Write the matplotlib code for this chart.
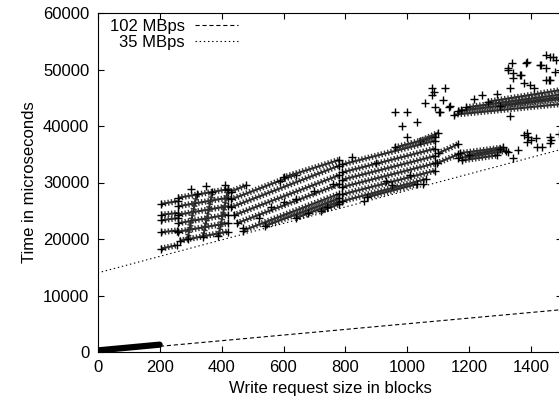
import matplotlib
matplotlib.use("Agg")
import matplotlib.pyplot as plt

plt.rcParams['font.family'] = ['Liberation Sans', 'DejaVu Sans']
plt.rcParams['lines.scale_dashes'] = False

# reference lines (endpoints)
line_x = [0, 1500]
line_102 = [0, 7500]
line_35 = [14000, 35900]

# small writes: dense band close to the 102 MBps line
small_x = [4, 200]
small_y = [300, 1300]

# stripes of dense points (x0, y0, x1, y1)
stripes_r1 = [
    (205, 26200, 258, 26700), (205, 24300, 258, 24600), (205, 23300, 258, 23700),
    (205, 21200, 255, 21500), (205, 18300, 255, 18900),
    (260, 27300, 420, 28800), (260, 25800, 420, 27300), (260, 24300, 420, 25800),
    (260, 22800, 420, 24300), (260, 21300, 420, 22800), (265, 19700, 420, 21300),
    (290, 20000, 320, 27900), (340, 20300, 370, 28300), (390, 20500, 420, 28600),
]
stripes_r2 = [
    (430, 28400, 480, 29500), (430, 27000, 640, 31400), (430, 25600, 780, 33000),
    (440, 24200, 780, 31300), (450, 22800, 780, 29700), (470, 21500, 780, 28000),
    (540, 22300, 780, 27200), (640, 23700, 780, 26600), (720, 24900, 780, 26200),
    (600, 30900, 780, 34000),
]
stripes_r3 = [
    (790, 33200, 1090, 37400), (790, 31800, 1090, 36000), (790, 30500, 1090, 34700),
    (790, 29200, 1090, 33400), (790, 27900, 1090, 32100), (790, 26700, 1060, 30600),
    (870, 27400, 1030, 29700), (1040, 37300, 1100, 38800), (960, 36200, 1090, 38100),
]
stripes_r4 = [
    (1095, 33400, 1165, 35000), (1100, 35200, 1165, 36800),
    (1165, 34300, 1320, 35600), (1170, 35200, 1310, 36200), (1175, 33900, 1290, 34800),
    (1200, 34800, 1300, 35900),
]
stripes_r5 = [
    (1150, 42000, 1500, 43900), (1165, 42700, 1500, 44800), (1190, 43300, 1500, 45600),
    (1260, 44300, 1500, 46400), (1300, 43600, 1500, 45100),
]

# isolated points
scatter_x = [961, 1000, 984, 1032, 1081, 1081, 1123, 1058, 1090, 1106, 1139, 1116, 1085,
             1103, 1135, 1174, 1215, 1240, 1290, 1330,
             1339, 1387, 1461, 1326, 1342, 1365, 1332, 1429, 1461, 1477, 1384, 1326, 1342,
             1368, 1377, 1432, 1448, 1471, 1448, 1448, 1456, 1395, 1480, 1410,
             1387, 1390, 1387, 1419, 1461, 1461, 1358, 1326, 1342, 1377, 1400, 1416, 1435,
             1465, 1490,
             640, 700, 760, 560, 600, 470, 520, 900, 950, 1000, 820, 860,
             300, 350, 410, 590, 680, 740, 930, 1010, 1050]
scatter_y = [42500, 42500, 40000, 40700, 46700, 45500, 46700, 44100, 43400, 42500, 43500,
             44600, 46000,
             42500, 43400, 42800, 44800, 45400, 45700, 41800,
             51200, 51400, 52200, 49900, 48500, 49000, 46700, 50800, 48100, 49600, 51200,
             50300, 49400, 49000, 47600, 50800, 52600, 52200, 50300, 48100, 48100, 47200,
             51700, 46800,
             38800, 38000, 37200, 36300, 38000, 37000, 35800, 35400, 34300, 38400, 37500,
             37800, 36300, 37500, 38500,
             27000, 28500, 29800, 25600, 26500, 22000, 23800, 33500, 29500, 38000, 34500, 26800,
             28800, 29300, 29600, 30200, 24600, 25700, 30300, 31300, 29800]

plt.figure(figsize=(5.59, 4.03), dpi=100)
ax = plt.axes([97.7 / 559, 51 / 403, 464.5 / 559, 339 / 403])

# dense groups: a thin stroke plus short thick dashes gives a chain of '+'
ax.plot(small_x, small_y, color='black', lw=4.5, solid_capstyle='round')
for group in [stripes_r1, stripes_r2, stripes_r3, stripes_r4, stripes_r5]:
    for x0, y0, x1, y1 in group:
        ax.plot([x0, x1], [y0, y1], color='0.15', lw=1.5, solid_capstyle='butt')
        ax.plot([x0, x1], [y0, y1], color='0.2', lw=4.4, linestyle=(0, (1.0, 1.4)))
        ax.plot([x0, x1], [y0, y1], '+', color='black', ms=6, mew=1)

ax.plot(scatter_x, scatter_y, '+', color='black', ms=6, mew=1, linestyle='none')

# theoretical lines
ax.plot(line_x, line_102, color='black', lw=0.8, linestyle=(0, (3, 2)), label='102 MBps')
ax.plot(line_x, line_35, color='black', lw=0.8, linestyle=(0, (1, 2)), label='35 MBps')

ax.set_xlim(0, 1500)
ax.set_ylim(0, 60000)
ax.set_xticks(range(0, 1501, 200))
ax.set_yticks(range(0, 60001, 10000))
ax.tick_params(direction='in', length=4, top=True, right=True, labelsize=12, pad=6)
ax.set_xlabel('Write request size in blocks', fontsize=12)
ax.set_ylabel('Time in microseconds', fontsize=12)

ax.legend(loc='upper right', bbox_to_anchor=(0.302, 0.983), markerfirst=False, frameon=False,
          fontsize=12, handlelength=2.6, handletextpad=0.6, labelspacing=0.05,
          borderpad=0, borderaxespad=0)

plt.savefig('out.png', dpi=100)
